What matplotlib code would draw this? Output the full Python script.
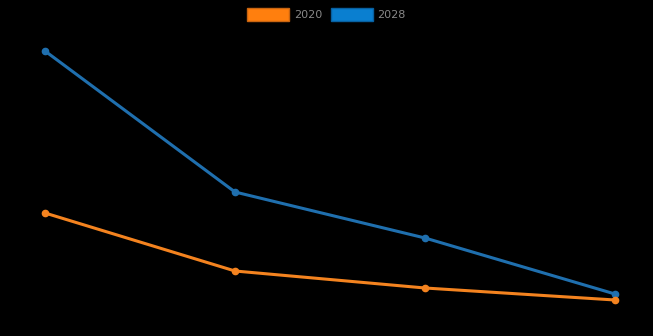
import matplotlib.pyplot as plt
from matplotlib.patches import Patch

# data (arbitrary units)
categories = ['A', 'B', 'C', 'D']
series_2020 = [108, 50, 33, 21]
series_2028 = [270, 129, 83, 27]
labels = ['2020', '2028']

orange = '#f4831f'
blue = '#1f6fae'

fig = plt.figure(figsize=(6.53, 3.36), dpi=100, facecolor='black')
ax = fig.add_axes([0, 0, 1, 1])
ax.set_facecolor('black')

x = range(len(categories))
ax.plot(x, series_2028, color=blue, lw=2.2, marker='o', ms=4.5, zorder=3)
ax.plot(x, series_2020, color=orange, lw=2.2, marker='o', ms=4.5, zorder=3)

ax.set_xlim(-45 / 190, 3 + 38 / 190)
ax.set_ylim(-15, 321)
ax.axis('off')

handles = [Patch(facecolor='#ff7f0e', edgecolor='#c86410', lw=1),
           Patch(facecolor='#0a7fd0', edgecolor='#0860a0', lw=1)]
leg = ax.legend(handles, labels, loc='upper center', bbox_to_anchor=(0.5, 1.0),
                ncol=2, frameon=False, fontsize=8, labelcolor='#888888',
                handlelength=3.8, handleheight=1.4, handletextpad=0.4,
                columnspacing=0.8, borderaxespad=0.3)

fig.savefig('out.png', dpi=100, facecolor='black')
